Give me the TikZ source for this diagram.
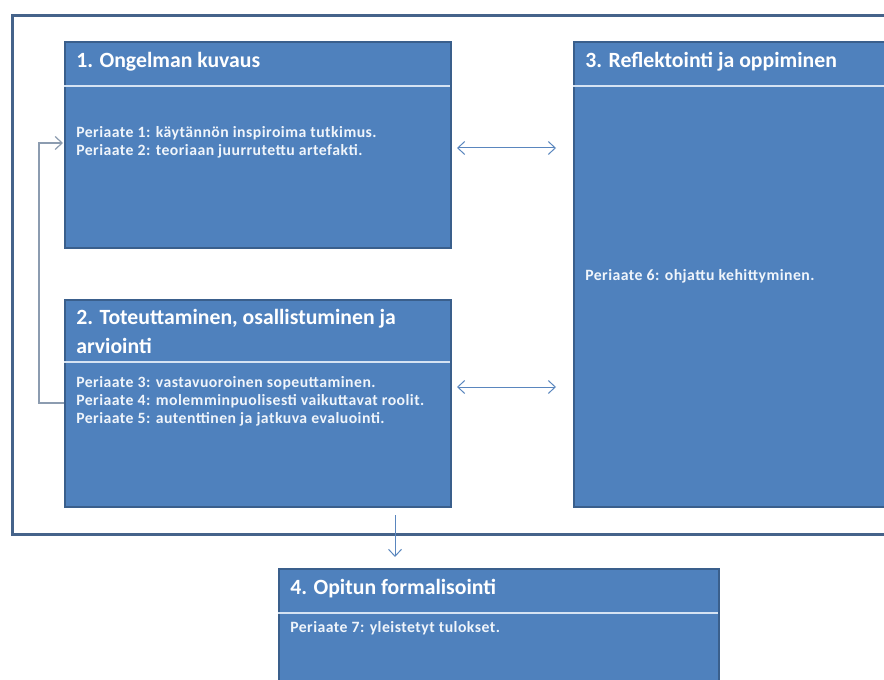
\documentclass[tikz,border=0pt]{standalone}
\usepackage{fontspec}
\setmainfont{Carlito}
\newfontfamily\bodyfont[LetterSpace=3]{Carlito}
\usetikzlibrary{arrows.meta}
\newdimen\pxu \pxu=0.75pt
\definecolor{boxfill}{HTML}{4F81BD}
\definecolor{boxedge}{HTML}{3A5F8C}
\definecolor{frameblue}{HTML}{45638A}
\definecolor{sepline}{HTML}{D5E3F3}
\definecolor{txt}{HTML}{F0F5FB}
\definecolor{arrowc}{HTML}{5A86BE}
\definecolor{loopc}{HTML}{8C9CB0}
\begin{document}
\begin{tikzpicture}[x=0.75pt,y=-0.75pt,
  box/.style={draw=boxedge,line width=1.5pt,fill=boxfill,rectangle,anchor=north west,inner sep=0pt},
  titletext/.style={text=white,font=\fontsize{16.3}{21}\selectfont\bfseries,anchor=west,inner sep=0pt,align=left},
  bodytext/.style={text=txt,font=\bodyfont\fontsize{11.8}{13.5}\selectfont\bfseries,anchor=north west,inner sep=0pt,align=left},
  sep/.style={draw=sepline,line width=0.9pt},
  tipb/.tip={Straight Barb[length=5.25pt,width=9.75pt]},
  dblarrow/.style={draw=arrowc,line width=0.75pt,tipb-tipb},
  looparrow/.style={draw=loopc,line width=0.9pt,-tipb},
  downarrow/.style={draw=arrowc,line width=0.75pt,-tipb}
]
\useasboundingbox (0,0) rectangle (884,680);
\clip (0,0) rectangle (884,680);
\fill[white] (0,0) rectangle (884,680);

% outer frame
\node[draw=frameblue,line width=2.25pt,rectangle,anchor=north west,inner sep=0pt,
      minimum width=900\pxu,minimum height=519\pxu] (frame) at (11,14) {};

% box 1
\node[box,minimum width=386\pxu,minimum height=206\pxu] (b1) at (64,41) {};
\draw[sep] (64,86) -- (450,86);
\node[titletext] (t1) at (76,62) {1. Ongelman kuvaus};
\node[bodytext] (p1) at (76,126) {Periaate 1: käytännön inspiroima tutkimus.\\Periaate 2: teoriaan juurrutettu artefakti.};

% box 3
\node[box,minimum width=340\pxu,minimum height=465\pxu] (b3) at (573,41) {};
\draw[sep] (573,86) -- (890,86);
\node[titletext] (t3) at (585,62) {3. Reflektointi ja oppiminen};
\node[bodytext] (p3) at (585,269) {Periaate 6: ohjattu kehittyminen.};

% box 2
\node[box,minimum width=386\pxu,minimum height=207\pxu] (b2) at (64,299) {};
\draw[sep] (64,362) -- (450,362);
\node[titletext,anchor=north west] (t2) at (76,309) {2. Toteuttaminen, osallistuminen ja\\[0.5pt]arviointi};
\node[bodytext] (p2) at (76,376) {Periaate 3: vastavuoroinen sopeuttaminen.\\Periaate 4: molemminpuolisesti vaikuttavat roolit.\\Periaate 5: autenttinen ja jatkuva evaluointi.};

% box 4
\node[box,minimum width=440\pxu,minimum height=140\pxu] (b4) at (278,568) {};
\draw[sep] (278,613) -- (718,613);
\node[titletext] (t4) at (290,589) {4. Opitun formalisointi};
\node[bodytext] (p4) at (290,621) {Periaate 7: yleistetyt tulokset.};

% connectors
\coordinate (a1l) at (457,148);
\coordinate (a1r) at (556,148);
\coordinate (a2l) at (457,387);
\coordinate (a2r) at (556,387);
\draw[dblarrow] (a1l) -- (a1r);
\draw[dblarrow] (a2l) -- (a2r);

\coordinate (lstart) at (64,403);
\coordinate (lc1) at (39,403);
\coordinate (lc2) at (39,143);
\coordinate (lend) at (63,143);
\draw[looparrow] (lstart) -- (lc1) -- (lc2) -- (lend);

\coordinate (dstart) at (395,515);
\coordinate (dend) at (395,557);
\draw[downarrow] (dstart) -- (dend);
\end{tikzpicture}
\end{document}
